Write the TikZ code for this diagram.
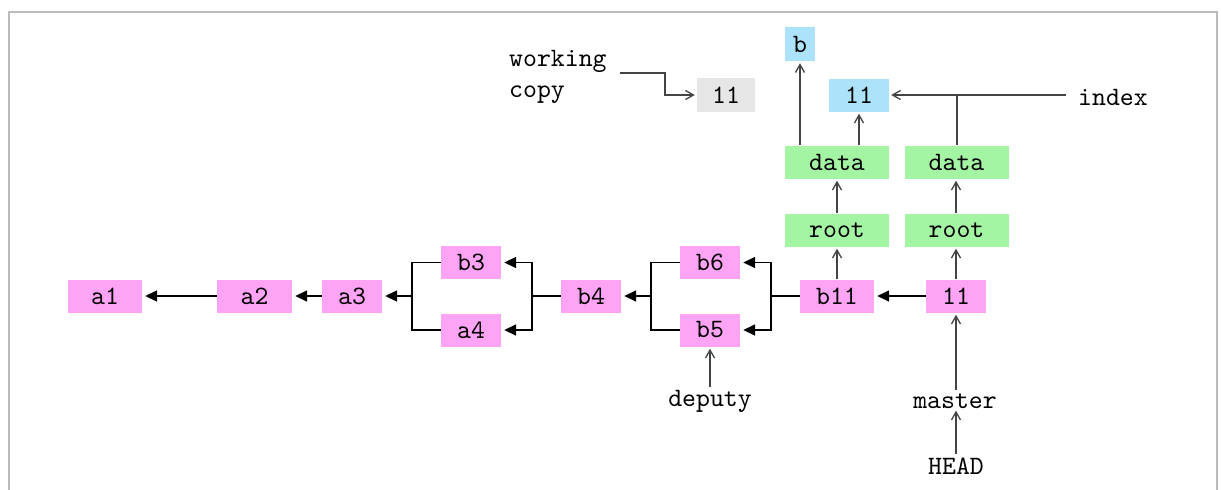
\documentclass[tikz,border=0pt]{standalone}
\usepackage{fontspec}
\setmonofont[Extension=.otf]{lmmono10-regular}
\usetikzlibrary{arrows.meta,calc}
\definecolor{commitpink}{HTML}{FFA3F5}
\definecolor{treegreen}{HTML}{A3F5A3}
\definecolor{blobblue}{HTML}{ADE3FA}
\definecolor{wcgray}{HTML}{E6E6E6}
\definecolor{framegray}{HTML}{BBBBBB}
\definecolor{refgray}{HTML}{444444}
\begin{document}
\begin{tikzpicture}[x=1pt,y=-1pt,
  font=\ttfamily\fontsize{26.5}{31}\selectfont,
  box/.style={minimum height=33, inner sep=0pt, anchor=center},
  commit/.style={box, fill=commitpink},
  tree/.style={box, fill=treegreen, minimum width=104},
  blob/.style={box, fill=blobblue},
  wcbox/.style={box, fill=wcgray},
  label/.style={inner sep=0pt, anchor=center},
  parent/.style={line width=1.6pt, black, -{Triangle[length=12pt,width=11pt]}, shorten >=3pt},
  pointer/.style={line width=1.3pt, refgray, -{Straight Barb[length=8pt,width=9pt]}, shorten >=2pt}
]
\useasboundingbox (0,0) rectangle (1221,490);
% frame open at the bottom
\draw[framegray, line width=2pt] (9,490) -- (9,12) -- (1217,12) -- (1217,490);

% commits
\node[commit, minimum width=74] (a1)  at (105,296) {a1};
\node[commit, minimum width=75] (a2)  at (254.5,296) {a2};
\node[commit, minimum width=60] (a3)  at (352,296) {a3};
\node[commit, minimum width=60] (b3)  at (471,262.5) {b3};
\node[commit, minimum width=60] (a4)  at (471,330) {a4};
\node[commit, minimum width=60] (b4)  at (591,296) {b4};
\node[commit, minimum width=60] (b6)  at (710,262.5) {b6};
\node[commit, minimum width=60] (b5)  at (710,330) {b5};
\node[commit, minimum width=74] (b11) at (837,296) {b11};
\node[commit, minimum width=60] (c11) at (956,296) {11};

% trees and blobs
\node[tree] (root1) at (837,230) {root};
\node[tree] (root2) at (956.5,230) {root};
\node[tree] (data1) at (837,162) {data};
\node[tree] (data2) at (956.5,162) {data};
\node[blob, minimum width=30, minimum height=34] (bb) at (800,44) {b};
\node[blob, minimum width=60] (blob11) at (859,95) {11};
\node[wcbox, minimum width=58, minimum height=34] (wc11) at (726,95) {11};

% reference labels
\node[label, align=left, anchor=west] (wc) at (509,77) {working\\copy};
\node[label] (index)  at (1113,97) {index};
\node[label] (deputy) at (710,401) {deputy};
\node[label] (master) at (955,401) {master};
\node[label] (head)   at (956,466) {HEAD};

% junction points of the merge/branch bends
\coordinate (j1) at (412,296);
\coordinate (j2) at (532,296);
\coordinate (j3) at (651,296);
\coordinate (j4) at (771,296);
\coordinate (wcstart) at (620,73);
\coordinate (wcbend) at (665,73);
\coordinate (idxjoin) at (957,95);

% parent links
\draw[parent] (a2.west) -- (a1.east);
\draw[parent] (a3.west) -- (a2.east);
\draw[line width=1.6pt] (b3.west) -| (j1);
\draw[line width=1.6pt] (a4.west) -| (j1);
\draw[parent] (j1) -- (a3.east);
\draw[line width=1.6pt] (b4.west) -- (j2);
\draw[parent] (j2) |- (b3.east);
\draw[parent] (j2) |- (a4.east);
\draw[line width=1.6pt] (b6.west) -| (j3);
\draw[line width=1.6pt] (b5.west) -| (j3);
\draw[parent] (j3) -- (b4.east);
\draw[line width=1.6pt] (b11.west) -- (j4);
\draw[parent] (j4) |- (b6.east);
\draw[parent] (j4) |- (b5.east);
\draw[parent] (c11.west) -- (b11.east);

% tree pointers
\draw[pointer] (b11.north) -- (root1.south);
\draw[pointer] (c11.north) -- (c11.north |- root2.south);
\draw[pointer] (root1.north) -- (data1.south);
\draw[pointer] (root2.north -| c11.north) -- (c11.north |- data2.south);
\draw[pointer] (data1.north -| bb.south) -- (bb.south);
\draw[pointer] (data1.north -| blob11.south) -- (blob11.south);
\draw[line width=1.3pt, refgray] (data2.north -| idxjoin) -- (idxjoin);
\draw[pointer] (index.west) ++(-12,-2) -- (blob11.east);
\draw[pointer] (wcstart) -- (wcbend) |- (wc11.west);

% branch pointers
\draw[pointer] (deputy.north) ++(0,-3) -- (b5.south);
\draw[pointer] (master.north -| c11.south) ++(0,-3) -- (c11.south);
\draw[pointer] (head.north -| c11.south) ++(0,-4) -- (master.south -| c11.south);
\end{tikzpicture}
\end{document}
